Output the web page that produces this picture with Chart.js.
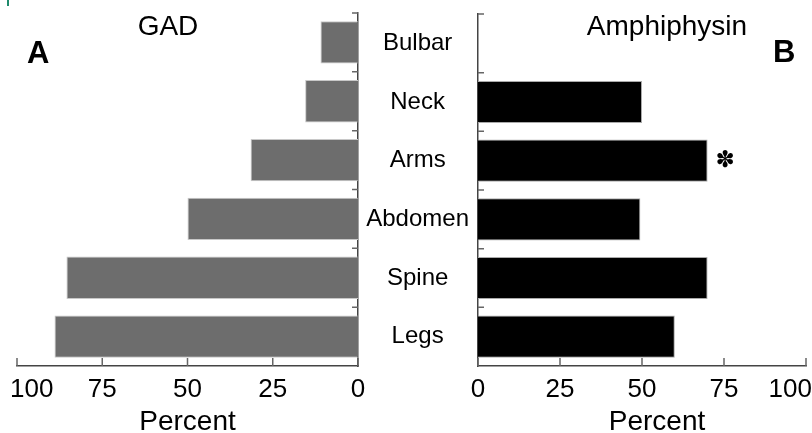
<!DOCTYPE html>
<html>
<head>
<meta charset="utf-8">
<script src="https://cdn.jsdelivr.net/npm/chart.js@4"></script>
<style>
body { margin: 0; background: #fff; }
#wrap { position: relative; width: 812px; height: 433px; overflow: hidden; }
.panel { position: absolute; top: 0; height: 433px; }
#left { left: 0; width: 372px; }
#right { left: 340px; width: 472px; }
#mark { position: absolute; left: 7px; top: 0; width: 2px; height: 6px; background: #1f8a6c; }
</style>
</head>
<body>
<div id="wrap">
  <div class="panel" id="left"><canvas id="gad"></canvas></div>
  <div class="panel" id="right"><canvas id="amph"></canvas></div>
  <div id="mark"></div>
</div>
<script>
// data
var regions = ['Bulbar', 'Neck', 'Arms', 'Abdomen', 'Spine', 'Legs'];
var gadPercent = [11, 15.5, 31.5, 50, 85.5, 89];
var amphPercent = [0, 50, 70, 49.5, 70, 60];
var percentTicks = [0, 25, 50, 75, 100];
var amphStarred = ['Arms'];

var FONT = "'Liberation Sans', Arial, Helvetica, sans-serif";

// inner tick marks, x labels, titles and panel letters
var axisDecor = {
  id: 'axisDecor',
  afterDraw: function (chart, args, opts) {
    var ctx = chart.ctx;
    var x = chart.scales.x;
    var y = chart.scales.y;
    var area = chart.chartArea;
    var band = y.getPixelForValue(1) - y.getPixelForValue(0);
    ctx.save();

    ctx.strokeStyle = '#666';
    ctx.lineWidth = 1.5;
    ctx.beginPath();
    percentTicks.forEach(function (v) {
      var px = x.getPixelForValue(v);
      ctx.moveTo(px, area.bottom);
      ctx.lineTo(px, area.bottom - 8);
    });
    var axisX = opts.side === 'right' ? area.right : area.left;
    var dir = opts.side === 'right' ? -1 : 1;
    for (var i = 0; i < regions.length; i++) {
      var py = y.getPixelForValue(i) - band / 2;
      ctx.moveTo(axisX, py);
      ctx.lineTo(axisX + dir * 6, py);
    }
    ctx.stroke();

    ctx.fillStyle = '#000';
    ctx.textBaseline = 'alphabetic';
    ctx.textAlign = 'left';
    ctx.font = '26px ' + FONT;
    percentTicks.forEach(function (v) {
      var label = String(v);
      var w = ctx.measureText(label).width;
      var left = x.getPixelForValue(v) - w / 2;
      left = Math.max(10, Math.min(chart.width - w, left));
      ctx.fillText(label, left, area.bottom + 31);
    });

    ctx.textAlign = 'center';
    ctx.font = '28px ' + FONT;
    ctx.fillText('Percent', (area.left + area.right) / 2 + opts.axisTitleShift, area.bottom + 64);
    ctx.fillText(opts.title, opts.titleX, 35);

    ctx.textAlign = 'left';
    ctx.font = 'bold 31px ' + FONT;
    ctx.fillText(opts.letter, opts.letterX, opts.letterY);

    if (opts.starred) {
      ctx.font = "23px 'DejaVu Sans', sans-serif";
      ctx.textBaseline = 'middle';
      opts.starred.forEach(function (name) {
        var idx = regions.indexOf(name);
        var px = x.getPixelForValue(opts.values[idx]);
        ctx.fillText('\u273D', px + 8, y.getPixelForValue(idx));
      });
    }
    ctx.restore();
  }
};

function panelOptions(side, axisWidth, padding, decor) {
  return {
    indexAxis: 'y',
    responsive: true,
    maintainAspectRatio: false,
    animation: false,
    layout: { padding: padding },
    plugins: {
      legend: { display: false },
      tooltip: { enabled: false },
      axisDecor: decor
    },
    scales: {
      x: {
        type: 'linear',
        min: 0,
        max: 100,
        reverse: side === 'right',
        grid: { display: false },
        border: { color: '#444', width: 1.5 },
        ticks: { display: false },
        afterFit: function (s) { s.height = 67; s.paddingLeft = 0; s.paddingRight = 0; }
      },
      y: {
        type: 'category',
        position: side,
        grid: { display: false, drawTicks: false },
        border: { color: '#444', width: 1.5 },
        ticks: {
          display: side === 'left',
          color: '#000',
          font: { family: FONT, size: 24 },
          crossAlign: 'center',
          padding: 9
        },
        afterFit: function (s) {
          s.width = axisWidth;
          s.paddingTop = 0;
          s.paddingBottom = 0;
        }
      }
    }
  };
}

new Chart(document.getElementById('gad'), {
  type: 'bar',
  data: {
    labels: regions,
    datasets: [{
      data: gadPercent,
      backgroundColor: '#6d6d6d',
      borderColor: '#c8c8c8',
      borderWidth: 1
    }]
  },
  options: panelOptions('right', 14, { left: 17, top: 13, right: 0, bottom: 0 }, {
    side: 'right', title: 'GAD', titleX: 168, letter: 'A', letterX: 27, letterY: 63, axisTitleShift: 0
  }),
  plugins: [axisDecor]
});

new Chart(document.getElementById('amph'), {
  type: 'bar',
  data: {
    labels: regions,
    datasets: [{
      data: amphPercent,
      backgroundColor: '#000',
      borderColor: '#aaaaaa',
      borderWidth: 1
    }]
  },
  options: panelOptions('left', 138, { left: 0, top: 14, right: 6, bottom: 0 }, {
    side: 'left', title: 'Amphiphysin', titleX: 327, letter: 'B', letterX: 433, letterY: 62,
    axisTitleShift: 15, starred: amphStarred, values: amphPercent
  }),
  plugins: [axisDecor]
});
</script>
</body>
</html>
